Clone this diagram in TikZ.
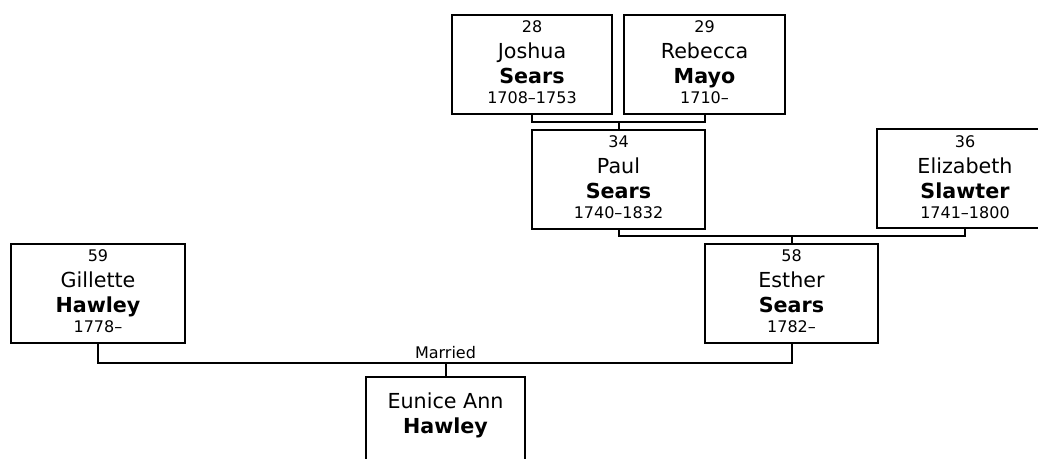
\documentclass[tikz,border=0pt]{standalone}
\usepackage{fontspec}
\setmainfont{DejaVu Sans}
\usepackage{tikz}
\usetikzlibrary{calc,positioning}
\tikzset{
person/.style={draw, line width=1.5pt, minimum height=74.25pt, inner sep=0pt}, % one box per person
link/.style={line width=1.5pt}, % the family lines
num/.style={anchor=base, inner sep=0pt, font=\fontsize{12}{14}\selectfont},
first/.style={anchor=base, inner sep=0pt, font=\fontsize{15.5}{18}\selectfont},
last/.style={anchor=base, inner sep=0pt, font=\fontsize{15.5}{18}\selectfont\bfseries},
}
\begin{document}
\begin{tikzpicture}[x=0.75pt,y=0.75pt,yscale=-1,xscale=1]
\useasboundingbox (0,0) rectangle (1038,458);
%Title (cut off)
\draw (316,-7) node (title) [anchor=base west, inner sep=0pt, font=\fontsize{18}{20}\selectfont\bfseries] {y};
%Boxes
\draw (532,64.5) node (joshua) [person, minimum width=120pt] {};
\draw (704.5,64.5) node (rebecca) [person, minimum width=120.75pt] {};
\draw (618.5,179) node (paul) [person, minimum width=129.75pt] {};
\draw (964.75,178.75) node (elizabeth) [person, minimum width=131.25pt] {};
\draw (791.5,293.25) node (esther) [person, minimum width=129.75pt] {};
\draw (98,293.75) node (gillette) [person, minimum width=130.5pt] {};
\draw (445.5,426.5) node (eunice) [person, minimum width=119.25pt] {};
%Straight Lines
\coordinate (jr) at (618.5,122);
\draw [link] (joshua.south) |- (jr) -| (rebecca.south);
\draw [link] (jr) -- (paul.north);
%Straight Lines
\coordinate (pe) at (791.5,236);
\draw [link] (paul.south) |- (pe) -| (elizabeth.south);
\draw [link] (pe) -- (esther.north);
%Straight Lines
\coordinate (ge) at (445.5,363);
\draw [link] (gillette.south) |- (ge) -| (esther.south);
\draw [link] (ge) -- (eunice.north);
\draw (445.5,358) node (married) [num] {Married};
%Texts
\draw (532,32) node (joshua-n) [num] {28};
\draw (532,58) node (joshua-f) [first] {Joshua};
\draw (532,83) node (joshua-l) [last] {Sears};
\draw (532,103) node (joshua-y) [num] {1708–1753};
\draw (704.5,32) node (rebecca-n) [num] {29};
\draw (704.5,58) node (rebecca-f) [first] {Rebecca};
\draw (704.5,83) node (rebecca-l) [last] {Mayo};
\draw (704.5,103) node (rebecca-y) [num] {1710–};
\draw (618.5,147) node (paul-n) [num] {34};
\draw (618.5,173) node (paul-f) [first] {Paul};
\draw (618.5,198) node (paul-l) [last] {Sears};
\draw (618.5,218) node (paul-y) [num] {1740–1832};
\draw (965,147) node (elizabeth-n) [num] {36};
\draw (965,173) node (elizabeth-f) [first] {Elizabeth};
\draw (965,198) node (elizabeth-l) [last] {Slawter};
\draw (965,218) node (elizabeth-y) [num] {1741–1800};
\draw (791.5,261) node (esther-n) [num] {58};
\draw (791.5,287) node (esther-f) [first] {Esther};
\draw (791.5,312) node (esther-l) [last] {Sears};
\draw (791.5,332) node (esther-y) [num] {1782–};
\draw (98,261) node (gillette-n) [num] {59};
\draw (98,287) node (gillette-f) [first] {Gillette};
\draw (98,312) node (gillette-l) [last] {Hawley};
\draw (98,332) node (gillette-y) [num] {1778–};
\draw (445.5,408.5) node (eunice-f) [first] {Eunice Ann};
\draw (445.5,433.5) node (eunice-l) [last] {Hawley};
\end{tikzpicture}
\end{document}
